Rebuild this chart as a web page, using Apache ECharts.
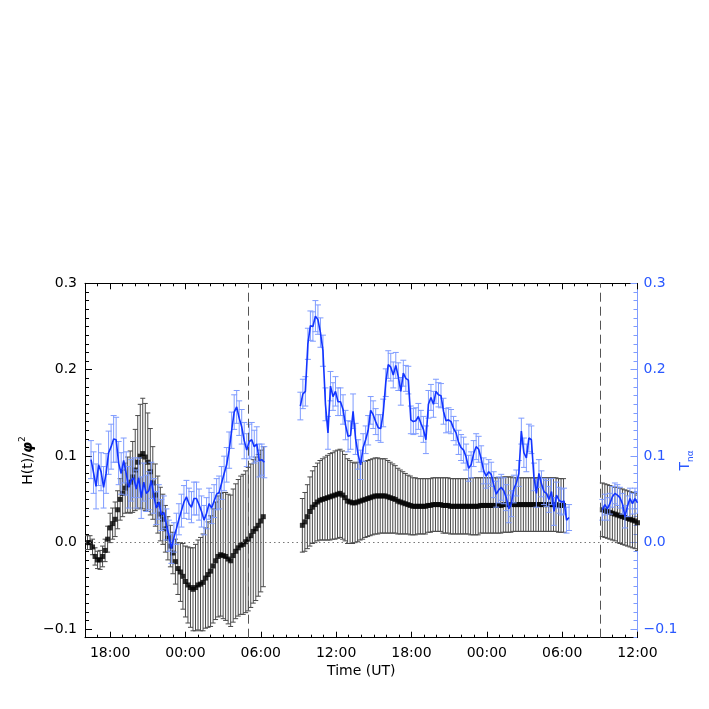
<!DOCTYPE html>
<html><head><meta charset="utf-8">
<script src="https://cdn.jsdelivr.net/npm/echarts@6/dist/echarts.min.js"></script>
<style>html,body{margin:0;padding:0;background:#fff}#c{width:709px;height:709px}</style>
</head><body><div id="c"></div>
<script>
// ---------- data ----------
const CADENCE = 0.2; // hours between samples (12 min)
const xTickHours = [18, 24, 30, 36, 42, 48, 54, 60];
const yTickValues = [-0.1, 0.0, 0.1, 0.2, 0.3];
const dashedLineHours = [29, 57];

// start hour of each segment (hours since 00:00 of day 1)
const blackStart = [16.2, 33.31, 57.2];
const blueStart = [16.48, 33.15, 57.2];

// H(t)/phi^2 (black squares) and errors
const blackVal1 = [0.000,0.000,-0.005,-0.016,-0.020,-0.020,-0.016,-0.009,0.004,0.017,
0.022,0.027,0.038,0.050,0.057,0.063,0.067,0.070,0.076,0.084,
0.093,0.100,0.103,0.099,0.093,0.082,0.069,0.055,0.044,0.033,
0.027,0.016,0.005,-0.004,-0.012,-0.022,-0.030,-0.034,-0.039,-0.045,
-0.049,-0.052,-0.054,-0.052,-0.049,-0.048,-0.046,-0.041,-0.037,-0.033,
-0.027,-0.021,-0.016,-0.014,-0.015,-0.016,-0.019,-0.021,-0.015,-0.010,
-0.006,-0.003,-0.002,0.001,0.004,0.008,0.013,0.016,0.020,0.025,
0.030];
const blackErr1 = [0.008,0.008,0.009,0.010,0.010,0.011,0.012,0.013,0.015,0.017,
0.018,0.020,0.022,0.024,0.027,0.029,0.032,0.036,0.041,0.047,
0.054,0.060,0.064,0.062,0.057,0.050,0.042,0.036,0.033,0.031,
0.029,0.027,0.025,0.024,0.024,0.026,0.030,0.034,0.038,0.041,
0.044,0.046,0.048,0.050,0.052,0.054,0.056,0.058,0.061,0.064,
0.066,0.068,0.070,0.071,0.073,0.074,0.075,0.076,0.077,0.078,
0.079,0.080,0.081,0.082,0.083,0.083,0.083,0.083,0.082,0.082,
0.081];
const blackVal2 = [0.020,0.024,0.030,0.036,0.041,0.044,0.047,0.049,0.050,0.051,
0.052,0.053,0.054,0.055,0.056,0.057,0.055,0.052,0.048,0.047,
0.046,0.046,0.047,0.048,0.049,0.050,0.051,0.052,0.053,0.054,
0.054,0.054,0.054,0.054,0.053,0.052,0.051,0.050,0.048,0.047,
0.046,0.045,0.044,0.043,0.042,0.042,0.042,0.042,0.042,0.042,
0.043,0.043,0.044,0.044,0.044,0.044,0.043,0.043,0.043,0.042,
0.042,0.042,0.042,0.042,0.042,0.042,0.042,0.042,0.042,0.042,
0.042,0.043,0.043,0.043,0.043,0.043,0.043,0.043,0.043,0.043,
0.044,0.044,0.044,0.044,0.044,0.044,0.044,0.044,0.044,0.044,
0.044,0.044,0.044,0.044,0.044,0.044,0.044,0.044,0.044,0.044,
0.044,0.044,0.043,0.043,0.043];
const blackErr2 = [0.031,0.034,0.037,0.040,0.042,0.044,0.045,0.046,0.047,0.048,
0.049,0.050,0.050,0.051,0.051,0.051,0.051,0.050,0.049,0.048,
0.047,0.046,0.046,0.045,0.045,0.044,0.044,0.044,0.044,0.044,
0.044,0.043,0.043,0.043,0.042,0.041,0.040,0.039,0.038,0.037,
0.036,0.035,0.034,0.034,0.033,0.033,0.032,0.032,0.032,0.032,
0.031,0.031,0.031,0.031,0.031,0.031,0.032,0.032,0.032,0.032,
0.032,0.032,0.032,0.032,0.032,0.032,0.032,0.033,0.033,0.033,
0.033,0.032,0.032,0.032,0.032,0.032,0.032,0.032,0.032,0.032,
0.032,0.032,0.032,0.032,0.031,0.031,0.031,0.031,0.031,0.031,
0.031,0.031,0.031,0.031,0.031,0.031,0.031,0.031,0.031,0.031,
0.031,0.031,0.031,0.031,0.031];
const blackVal3 = [0.038,0.037,0.036,0.035,0.034,0.033,0.032,0.031,0.030,0.029,0.028,0.027,0.026,0.025,0.023];
const blackErr3 = [0.031,0.031,0.031,0.031,0.031,0.031,0.032,0.032,0.032,0.032,0.032,0.032,0.032,0.032,0.032];

// T_n alpha (blue line) and errors
const blueVal1 = [0.096,0.081,0.065,0.090,0.082,0.064,0.080,0.104,0.111,0.120,
0.119,0.092,0.080,0.095,0.080,0.064,0.072,0.075,0.062,0.075,
0.052,0.070,0.057,0.060,0.072,0.054,0.040,0.047,0.032,0.035,
0.021,0.008,-0.007,0.006,0.016,0.027,0.037,0.047,0.053,0.045,
0.041,0.051,0.051,0.044,0.036,0.026,0.034,0.045,0.040,0.048,
0.056,0.058,0.069,0.080,0.090,0.107,0.130,0.151,0.157,0.144,
0.134,0.118,0.107,0.117,0.119,0.111,0.114,0.095,0.096,0.093];
const blueErr1 = [0.022,0.024,0.026,0.024,0.022,0.024,0.023,0.025,0.026,0.027,
0.026,0.025,0.024,0.026,0.025,0.024,0.024,0.023,0.022,0.023,
0.024,0.022,0.021,0.022,0.021,0.020,0.019,0.020,0.018,0.019,
0.018,0.018,0.017,0.017,0.018,0.018,0.019,0.019,0.019,0.018,
0.018,0.019,0.019,0.018,0.018,0.017,0.018,0.018,0.018,0.019,
0.018,0.019,0.019,0.020,0.020,0.021,0.021,0.020,0.019,0.020,
0.020,0.021,0.019,0.020,0.020,0.019,0.020,0.019,0.018,0.018];
const blueVal2 = [0.158,0.172,0.175,0.230,0.251,0.250,0.262,0.258,0.243,0.222,
0.160,0.127,0.181,0.169,0.175,0.163,0.163,0.154,0.136,0.123,
0.124,0.152,0.120,0.102,0.090,0.110,0.119,0.130,0.153,0.148,
0.140,0.133,0.132,0.150,0.185,0.206,0.203,0.194,0.205,0.192,
0.175,0.196,0.190,0.188,0.142,0.140,0.141,0.146,0.138,0.131,
0.119,0.160,0.168,0.160,0.175,0.171,0.170,0.152,0.141,0.142,
0.140,0.132,0.127,0.116,0.110,0.107,0.099,0.086,0.090,0.103,
0.111,0.108,0.097,0.083,0.077,0.082,0.079,0.067,0.056,0.061,
0.064,0.060,0.052,0.039,0.045,0.062,0.069,0.080,0.129,0.104,
0.098,0.121,0.119,0.076,0.057,0.080,0.068,0.059,0.057,0.050,
0.059,0.036,0.055,0.049,0.047,0.048,0.026,0.029];
const blueErr2 = [0.016,0.017,0.017,0.018,0.017,0.017,0.018,0.017,0.017,0.018,
0.019,0.019,0.017,0.016,0.017,0.016,0.016,0.017,0.017,0.018,
0.016,0.020,0.018,0.017,0.017,0.016,0.016,0.017,0.016,0.016,
0.015,0.015,0.016,0.016,0.016,0.016,0.016,0.015,0.015,0.016,
0.016,0.015,0.015,0.016,0.016,0.015,0.015,0.015,0.015,0.015,
0.016,0.016,0.015,0.015,0.014,0.014,0.014,0.015,0.014,0.014,
0.014,0.014,0.014,0.014,0.015,0.015,0.015,0.015,0.015,0.015,
0.015,0.015,0.015,0.015,0.014,0.014,0.014,0.015,0.015,0.015,
0.015,0.015,0.015,0.016,0.015,0.016,0.015,0.015,0.015,0.017,
0.016,0.016,0.016,0.016,0.016,0.016,0.015,0.015,0.015,0.015,
0.015,0.016,0.015,0.015,0.015,0.015,0.015,0.015];
const blueVal3 = [0.038,0.044,0.039,0.045,0.053,0.057,0.055,0.052,0.045,0.030,0.042,0.051,0.045,0.051,0.046];
const blueErr3 = [0.012,0.012,0.013,0.012,0.012,0.012,0.012,0.012,0.012,0.013,0.012,0.012,0.012,0.012,0.012];

// ---------- helpers ----------
const FONT = 'DejaVu Sans';
const BLUE_LINE = '#1234ff';
const BLUE_ERR = '#7f9cff';
const BLUE_AXIS = '#7f9cff';
const BLUE_TEXT = '#2a58ff';
const BLACK_ERR = '#4a4a4a';

function times(start, n) { const t = []; for (let i = 0; i < n; i++) t.push(+(start + i * CADENCE).toFixed(3)); return t; }
function pts(start, vals) { const t = times(start, vals.length); return vals.map((v, i) => [t[i], v]); }
function errs(start, vals, e) { const t = times(start, vals.length); return vals.map((v, i) => [t[i], v - e[i], v + e[i]]); }
function errRender(cap, color) {
  return function (params, api) {
    const x = api.value(0);
    const a = api.coord([x, api.value(1)]);
    const b = api.coord([x, api.value(2)]);
    const st = { stroke: color, lineWidth: 1 };
    return { type: 'group', children: [
      { type: 'line', shape: { x1: a[0], y1: a[1], x2: b[0], y2: b[1] }, style: st },
      { type: 'line', shape: { x1: a[0] - cap, y1: a[1], x2: a[0] + cap, y2: a[1] }, style: st },
      { type: 'line', shape: { x1: b[0] - cap, y1: b[1], x2: b[0] + cap, y2: b[1] }, style: st }
    ] };
  };
}
const hourLabel = v => String(((Math.round(v) % 24) + 24) % 24).padStart(2, '0') + ':00';
const yLabel = v => (v < -1e-9 ? '\u2212' : '') + Math.abs(v).toFixed(1);

const blackSeg = [[blackVal1, blackErr1], [blackVal2, blackErr2], [blackVal3, blackErr3]];
const blueSeg = [[blueVal1, blueErr1], [blueVal2, blueErr2], [blueVal3, blueErr3]];

const series = [];
blackSeg.forEach((s, k) => {
  series.push({ type: 'custom', xAxisIndex: 0, yAxisIndex: 0, renderItem: errRender(2.5, BLACK_ERR),
    data: errs(blackStart[k], s[0], s[1]), encode: { x: 0, y: [1, 2] }, clip: true, z: 2, silent: true });
});
blackSeg.forEach((s, k) => {
  const ser = { type: 'scatter', xAxisIndex: 0, yAxisIndex: 0, symbol: 'rect', symbolSize: 5,
    itemStyle: { color: '#000' }, data: pts(blackStart[k], s[0]), z: 3, silent: true, clip: true };
  if (k === 0) {
    ser.markLine = { silent: true, symbol: 'none', label: { show: false }, animation: false,
      data: [
        ...dashedLineHours.map(h => ({ xAxis: h, lineStyle: { color: '#555', type: [9, 5], width: 1 } })),
        { yAxis: 0, lineStyle: { color: '#777', type: [1.5, 3], width: 1 } }
      ] };
  }
  series.push(ser);
});
blueSeg.forEach((s, k) => {
  series.push({ type: 'custom', xAxisIndex: 0, yAxisIndex: 2, renderItem: errRender(3, BLUE_ERR),
    data: errs(blueStart[k], s[0], s[1]), encode: { x: 0, y: [1, 2] }, clip: true, z: 4, silent: true });
});
blueSeg.forEach((s, k) => {
  series.push({ type: 'line', xAxisIndex: 0, yAxisIndex: 2, symbol: 'none', smooth: false,
    lineStyle: { color: BLUE_LINE, width: 1.6 }, data: pts(blueStart[k], s[0]), z: 5, silent: true });
});

const noSplit = { show: false };
const txt = { fontFamily: FONT, fontSize: 14, color: '#000' };

const option = {
  animation: false,
  backgroundColor: '#fff',
  grid: { left: 85, right: 71.5, top: 283.3, bottom: 71.3, containLabel: false, outerBoundsMode: 'none' },
  xAxis: [
    { type: 'value', position: 'bottom', min: 16, max: 60,
      axisLine: { onZero: false, lineStyle: { color: '#000', width: 1 } },
      axisTick: { inside: true, length: 6, customValues: xTickHours, lineStyle: { color: '#000' } },
      axisLabel: { customValues: xTickHours, formatter: hourLabel, margin: 9, ...txt },
      splitLine: noSplit,
      name: 'Time (UT)', nameLocation: 'middle', nameGap: 27, nameMoveOverlap: false, nameTextStyle: txt },
    { type: 'value', position: 'bottom', min: 16, max: 60, interval: 1,
      axisLine: { show: false, onZero: false }, axisTick: { inside: true, length: 3, lineStyle: { color: '#000' } },
      axisLabel: { show: false }, splitLine: noSplit },
    { type: 'value', position: 'top', min: 16, max: 60,
      axisLine: { onZero: false, lineStyle: { color: '#000', width: 1 } },
      axisTick: { inside: true, length: 6, customValues: xTickHours, lineStyle: { color: '#000' } },
      axisLabel: { show: false }, splitLine: noSplit },
    { type: 'value', position: 'top', min: 16, max: 60, interval: 1,
      axisLine: { show: false, onZero: false }, axisTick: { inside: true, length: 3, lineStyle: { color: '#000' } },
      axisLabel: { show: false }, splitLine: noSplit }
  ],
  yAxis: [
    { type: 'value', position: 'left', min: -0.11, max: 0.3,
      axisLine: { show: true, onZero: false, lineStyle: { color: '#000', width: 1 } },
      axisTick: { show: true, inside: true, length: 7, customValues: yTickValues, lineStyle: { color: '#000' } },
      axisLabel: { customValues: yTickValues, formatter: yLabel, margin: 8, ...txt },
      splitLine: noSplit,
      name: '{a|H(t)/}{b|φ}{c|2}', nameLocation: 'middle', nameRotate: 90, nameGap: 47, nameMoveOverlap: false,
      nameTextStyle: { ...txt, rich: {
        a: { fontFamily: FONT, fontSize: 14, color: '#000', lineHeight: 20 },
        b: { fontFamily: FONT, fontSize: 14, fontStyle: 'italic', fontWeight: 'bold', color: '#000', lineHeight: 20 },
        c: { fontFamily: FONT, fontSize: 9, color: '#000', lineHeight: 11, verticalAlign: 'top' } } } },
    { type: 'value', position: 'left', min: -0.11, max: 0.3, interval: 0.01,
      axisLine: { show: false, onZero: false }, axisTick: { show: true, inside: true, length: 4, lineStyle: { color: '#000' } },
      axisLabel: { show: false }, splitLine: noSplit },
    { type: 'value', position: 'right', min: -0.11, max: 0.3,
      axisLine: { show: true, onZero: false, lineStyle: { color: BLUE_AXIS, width: 1 } },
      axisTick: { show: true, inside: true, length: 7, customValues: yTickValues, lineStyle: { color: BLUE_AXIS } },
      axisLabel: { customValues: yTickValues, formatter: yLabel, margin: 6, ...txt, color: BLUE_TEXT },
      splitLine: noSplit,
      name: '{t|T}{s|nα}', nameLocation: 'middle', nameRotate: 90, nameGap: 38, nameMoveOverlap: false,
      nameTextStyle: { ...txt, color: BLUE_TEXT, rich: {
        t: { fontFamily: FONT, fontSize: 14, color: BLUE_TEXT, lineHeight: 20 },
        s: { fontFamily: FONT, fontSize: 9, color: BLUE_TEXT, lineHeight: 11, verticalAlign: 'bottom' } } } },
    { type: 'value', position: 'right', min: -0.11, max: 0.3, interval: 0.01,
      axisLine: { show: false, onZero: false }, axisTick: { show: true, inside: true, length: 4, lineStyle: { color: BLUE_AXIS } },
      axisLabel: { show: false }, splitLine: noSplit }
  ],
  series: series
};

const chart = echarts.init(document.getElementById('c'));
chart.setOption(option);
</script>
</body></html>
